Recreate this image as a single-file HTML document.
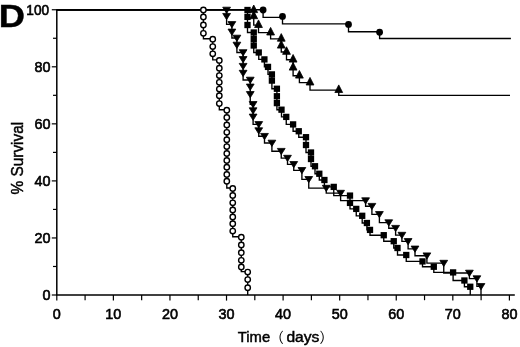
<!DOCTYPE html>
<html><head><meta charset="utf-8"><title>D</title>
<style>html,body{margin:0;padding:0;background:#fff}svg{display:block}</style></head>
<body>
<svg width="520" height="347" viewBox="0 0 520 347">
<rect width="520" height="347" fill="#fff"/>
<g stroke="#000" stroke-width="1.5" fill="none">
<path d="M56.8,9.15V295.0"/>
<path d="M56.05,295.0H514.8"/>
</g>
<g stroke="#000" stroke-width="1.2" fill="none">
<path d="M51.80,295.00H56.8"/>
<path d="M53.00,266.48H56.8"/>
<path d="M51.80,237.95H56.8"/>
<path d="M53.00,209.43H56.8"/>
<path d="M51.80,180.90H56.8"/>
<path d="M53.00,152.38H56.8"/>
<path d="M51.80,123.85H56.8"/>
<path d="M53.00,95.32H56.8"/>
<path d="M51.80,66.80H56.8"/>
<path d="M53.00,38.27H56.8"/>
<path d="M51.80,9.75H56.8"/>
<path d="M56.80,295.0V300.60"/>
<path d="M85.09,295.0V300.20"/>
<path d="M113.38,295.0V300.60"/>
<path d="M141.66,295.0V300.20"/>
<path d="M169.95,295.0V300.60"/>
<path d="M198.24,295.0V300.20"/>
<path d="M226.52,295.0V300.60"/>
<path d="M254.81,295.0V300.20"/>
<path d="M283.10,295.0V300.60"/>
<path d="M311.39,295.0V300.20"/>
<path d="M339.68,295.0V300.60"/>
<path d="M367.96,295.0V300.20"/>
<path d="M396.25,295.0V300.60"/>
<path d="M424.54,295.0V300.20"/>
<path d="M452.82,295.0V300.60"/>
<path d="M481.11,295.0V300.20"/>
<path d="M509.40,295.0V300.60"/>
</g>
<g font-family="Liberation Sans, Arial, Helvetica, sans-serif" font-size="14.4" fill="#000" stroke="#000" stroke-width="0.6">
<text x="50.4" y="299.90" text-anchor="end">0</text>
<text x="50.4" y="242.85" text-anchor="end">20</text>
<text x="50.4" y="185.80" text-anchor="end">40</text>
<text x="50.4" y="128.75" text-anchor="end">60</text>
<text x="50.4" y="71.70" text-anchor="end">80</text>
<text transform="translate(49.1,14.65) scale(0.95,1)" text-anchor="end">100</text>
<text x="56.80" y="318.6" text-anchor="middle">0</text>
<text x="113.38" y="318.6" text-anchor="middle">10</text>
<text x="169.95" y="318.6" text-anchor="middle">20</text>
<text x="226.52" y="318.6" text-anchor="middle">30</text>
<text x="283.10" y="318.6" text-anchor="middle">40</text>
<text x="339.68" y="318.6" text-anchor="middle">50</text>
<text x="396.25" y="318.6" text-anchor="middle">60</text>
<text x="452.82" y="318.6" text-anchor="middle">70</text>
<text x="509.40" y="318.6" text-anchor="middle">80</text>
<text transform="translate(237.8,341.8) scale(1.03,1)" stroke-width="0.45">Time</text>
<text transform="translate(286.4,341.8) scale(1.085,1)" stroke-width="0.45">days</text>
<text transform="translate(23.4,194.5) rotate(-90) scale(1.07,1.19)" stroke-width="0.4">% Survival</text>
</g>
<g font-family="Liberation Sans, Noto Sans CJK JP, sans-serif" font-size="14" fill="#000">
<text x="269.8" y="342">（</text>
<text x="319.6" y="342">）</text>
</g>
<text transform="translate(-1.2,26.75) scale(1.21,1.045)" font-family="Liberation Sans, Arial, sans-serif" font-weight="bold" font-size="30" stroke="#000" stroke-width="0.4">D</text>
<g stroke="#000" stroke-width="1.35" fill="none" stroke-linejoin="miter">
<path d="M56.80,9.75H203.40V16.50H203.40V24.50H203.40V32.80H203.40V38.70H212.75V46.10H212.75V53.30H212.75V59.90H219.30V67.70H219.30V75.10H219.30V81.80H219.30V88.60H219.30V95.25H219.30V103.10H219.30V109.75H226.80V116.90H226.80V124.40H226.80V131.80H226.80V139.25H226.80V146.10H226.80V153.00H226.80V159.90H226.80V166.70H226.80V173.90H226.80V180.75H226.80V188.00H232.75V194.90H232.75V202.30H232.75V209.50H232.75V216.40H232.75V223.25H232.75V230.60H232.75V236.75H241.30V244.50H241.30V252.25H241.30V259.80H241.30V266.50H241.30V271.60H247.70V279.10H247.70V287.25H247.70V295.00"/>
<path d="M56.80,9.75H226.60V16.25H226.60V24.40H231.90V31.90H231.90V38.00H236.90V45.00H236.90V52.50H243.10V59.35H243.10V66.20H243.10V73.10H243.10V80.00H250.25V86.85H250.25V94.35H250.25V104.35H253.10V110.60H253.10V116.90H253.10V124.40H258.75V130.60H258.75V136.25H264.50V143.00H271.90V151.20H281.25V158.10H287.50V164.35H293.75V170.30H301.90V179.30H308.75V188.10H326.25V193.10H340.60V200.60H365.60V206.20H371.90V214.35H379.40V222.60H388.75V228.20H395.60V235.10H401.90V241.35H408.10V248.85H415.00V255.70H426.90V263.10H443.75V273.00H469.40V278.60H476.90V286.35H481.00V295.00"/>
<path d="M56.80,9.75H247.50V16.90H247.50V25.00H247.50V32.50H253.75V39.00H253.75V45.50H253.75V52.50H258.75V59.40H264.40V66.90H268.00V74.40H271.90V80.60H271.90V88.75H276.90V96.25H276.90V103.10H276.90V109.70H281.50V116.90H286.25V124.40H293.10V131.25H298.75V137.20H306.00V145.00H306.00V152.50H311.00V159.00H311.00V166.25H315.00V173.75H319.30V180.00H324.40V186.90H333.75V195.60H350.00V202.90H350.00V208.90H356.25V215.80H362.20V223.00H366.90V229.90H370.00V235.20H383.75V241.20H393.75V248.00H397.50V255.00H406.25V261.40H422.50V266.75H433.80V272.40H453.10V280.50H464.40V286.75H470.25V295.00"/>
<path d="M56.80,9.75H253.75V16.30H253.75V25.10H258.50V32.60H270.60V38.80H281.25V45.70H281.25V51.95H286.50V59.70H293.10V67.70H293.10V75.70H299.40V82.60H310.00V90.10H338.75V95.33H510.00"/>
<path d="M56.80,9.75H263.10V17.40H282.50V23.90H348.50V31.75H379.60V38.50H510.90"/>
</g>
<g fill="#000" stroke="#000" stroke-width="0.8" stroke-linejoin="round">
<path d="M222.70,7.20H230.50L226.60,13.40Z"/>
<path d="M222.70,13.45H230.50L226.60,19.65Z"/>
<path d="M228.00,21.60H235.80L231.90,27.80Z"/>
<path d="M228.00,29.10H235.80L231.90,35.30Z"/>
<path d="M233.00,35.20H240.80L236.90,41.40Z"/>
<path d="M233.00,42.20H240.80L236.90,48.40Z"/>
<path d="M239.20,49.70H247.00L243.10,55.90Z"/>
<path d="M239.20,56.55H247.00L243.10,62.75Z"/>
<path d="M239.20,63.40H247.00L243.10,69.60Z"/>
<path d="M239.20,70.30H247.00L243.10,76.50Z"/>
<path d="M246.35,77.20H254.15L250.25,83.40Z"/>
<path d="M246.35,84.05H254.15L250.25,90.25Z"/>
<path d="M246.35,91.55H254.15L250.25,97.75Z"/>
<path d="M249.20,101.55H257.00L253.10,107.75Z"/>
<path d="M249.20,107.80H257.00L253.10,114.00Z"/>
<path d="M249.20,114.10H257.00L253.10,120.30Z"/>
<path d="M254.85,121.60H262.65L258.75,127.80Z"/>
<path d="M254.85,127.80H262.65L258.75,134.00Z"/>
<path d="M260.60,133.45H268.40L264.50,139.65Z"/>
<path d="M268.00,140.20H275.80L271.90,146.40Z"/>
<path d="M277.35,148.40H285.15L281.25,154.60Z"/>
<path d="M283.60,155.30H291.40L287.50,161.50Z"/>
<path d="M289.85,161.55H297.65L293.75,167.75Z"/>
<path d="M298.00,167.50H305.80L301.90,173.70Z"/>
<path d="M304.85,176.50H312.65L308.75,182.70Z"/>
<path d="M322.35,185.30H330.15L326.25,191.50Z"/>
<path d="M336.70,190.30H344.50L340.60,196.50Z"/>
<path d="M361.70,197.80H369.50L365.60,204.00Z"/>
<path d="M368.00,203.40H375.80L371.90,209.60Z"/>
<path d="M375.50,211.55H383.30L379.40,217.75Z"/>
<path d="M384.85,219.80H392.65L388.75,226.00Z"/>
<path d="M391.70,225.40H399.50L395.60,231.60Z"/>
<path d="M398.00,232.30H405.80L401.90,238.50Z"/>
<path d="M404.20,238.55H412.00L408.10,244.75Z"/>
<path d="M411.10,246.05H418.90L415.00,252.25Z"/>
<path d="M423.00,252.90H430.80L426.90,259.10Z"/>
<path d="M439.85,260.30H447.65L443.75,266.50Z"/>
<path d="M465.50,270.20H473.30L469.40,276.40Z"/>
<path d="M473.00,275.80H480.80L476.90,282.00Z"/>
<path d="M477.10,283.55H484.90L481.00,289.75Z"/>
<rect x="244.35" y="6.85" width="6.30" height="6.30" stroke="none"/>
<rect x="244.35" y="13.75" width="6.30" height="6.30" stroke="none"/>
<rect x="244.35" y="21.85" width="6.30" height="6.30" stroke="none"/>
<rect x="250.60" y="29.35" width="6.30" height="6.30" stroke="none"/>
<rect x="250.60" y="35.85" width="6.30" height="6.30" stroke="none"/>
<rect x="250.60" y="42.35" width="6.30" height="6.30" stroke="none"/>
<rect x="255.60" y="49.35" width="6.30" height="6.30" stroke="none"/>
<rect x="261.25" y="56.25" width="6.30" height="6.30" stroke="none"/>
<rect x="264.85" y="63.75" width="6.30" height="6.30" stroke="none"/>
<rect x="268.75" y="71.25" width="6.30" height="6.30" stroke="none"/>
<rect x="268.75" y="77.45" width="6.30" height="6.30" stroke="none"/>
<rect x="273.75" y="85.60" width="6.30" height="6.30" stroke="none"/>
<rect x="273.75" y="93.10" width="6.30" height="6.30" stroke="none"/>
<rect x="273.75" y="99.95" width="6.30" height="6.30" stroke="none"/>
<rect x="278.35" y="106.55" width="6.30" height="6.30" stroke="none"/>
<rect x="283.10" y="113.75" width="6.30" height="6.30" stroke="none"/>
<rect x="289.95" y="121.25" width="6.30" height="6.30" stroke="none"/>
<rect x="295.60" y="128.10" width="6.30" height="6.30" stroke="none"/>
<rect x="302.85" y="134.05" width="6.30" height="6.30" stroke="none"/>
<rect x="302.85" y="141.85" width="6.30" height="6.30" stroke="none"/>
<rect x="307.85" y="149.35" width="6.30" height="6.30" stroke="none"/>
<rect x="307.85" y="155.85" width="6.30" height="6.30" stroke="none"/>
<rect x="311.85" y="163.10" width="6.30" height="6.30" stroke="none"/>
<rect x="316.15" y="170.60" width="6.30" height="6.30" stroke="none"/>
<rect x="321.25" y="176.85" width="6.30" height="6.30" stroke="none"/>
<rect x="330.60" y="183.75" width="6.30" height="6.30" stroke="none"/>
<rect x="346.85" y="192.45" width="6.30" height="6.30" stroke="none"/>
<rect x="346.85" y="199.75" width="6.30" height="6.30" stroke="none"/>
<rect x="353.10" y="205.75" width="6.30" height="6.30" stroke="none"/>
<rect x="359.05" y="212.65" width="6.30" height="6.30" stroke="none"/>
<rect x="363.75" y="219.85" width="6.30" height="6.30" stroke="none"/>
<rect x="366.85" y="226.75" width="6.30" height="6.30" stroke="none"/>
<rect x="380.60" y="232.05" width="6.30" height="6.30" stroke="none"/>
<rect x="390.60" y="238.05" width="6.30" height="6.30" stroke="none"/>
<rect x="394.35" y="244.85" width="6.30" height="6.30" stroke="none"/>
<rect x="403.10" y="251.85" width="6.30" height="6.30" stroke="none"/>
<rect x="419.35" y="258.25" width="6.30" height="6.30" stroke="none"/>
<rect x="430.65" y="263.60" width="6.30" height="6.30" stroke="none"/>
<rect x="449.95" y="269.25" width="6.30" height="6.30" stroke="none"/>
<rect x="461.25" y="277.35" width="6.30" height="6.30" stroke="none"/>
<rect x="467.10" y="283.60" width="6.30" height="6.30" stroke="none"/>
<path d="M249.85,12.60H257.65L253.75,5.00Z"/>
<path d="M249.85,18.70H257.65L253.75,11.10Z"/>
<path d="M254.60,27.50H262.40L258.50,19.90Z"/>
<path d="M266.70,35.00H274.50L270.60,27.40Z"/>
<path d="M277.35,41.20H285.15L281.25,33.60Z"/>
<path d="M277.35,48.10H285.15L281.25,40.50Z"/>
<path d="M282.60,54.35H290.40L286.50,46.75Z"/>
<path d="M289.20,62.10H297.00L293.10,54.50Z"/>
<path d="M289.20,70.10H297.00L293.10,62.50Z"/>
<path d="M295.50,78.10H303.30L299.40,70.50Z"/>
<path d="M306.10,85.00H313.90L310.00,77.40Z"/>
<path d="M334.85,92.50H342.65L338.75,84.90Z"/>
<circle cx="263.10" cy="10.00" r="3.4" stroke="none"/>
<circle cx="282.50" cy="16.40" r="3.4" stroke="none"/>
<circle cx="348.50" cy="24.40" r="3.4" stroke="none"/>
<circle cx="379.60" cy="32.25" r="3.4" stroke="none"/>
</g>
<g fill="#fff" stroke="#000" stroke-width="1.4">
<circle cx="203.40" cy="10.00" r="2.7"/>
<circle cx="203.40" cy="17.00" r="2.7"/>
<circle cx="203.40" cy="25.00" r="2.7"/>
<circle cx="203.40" cy="33.30" r="2.7"/>
<circle cx="212.75" cy="39.20" r="2.7"/>
<circle cx="212.75" cy="46.60" r="2.7"/>
<circle cx="212.75" cy="53.80" r="2.7"/>
<circle cx="219.30" cy="60.40" r="2.7"/>
<circle cx="219.30" cy="68.20" r="2.7"/>
<circle cx="219.30" cy="75.60" r="2.7"/>
<circle cx="219.30" cy="82.30" r="2.7"/>
<circle cx="219.30" cy="89.10" r="2.7"/>
<circle cx="219.30" cy="95.75" r="2.7"/>
<circle cx="219.30" cy="103.60" r="2.7"/>
<circle cx="226.80" cy="110.25" r="2.7"/>
<circle cx="226.80" cy="117.40" r="2.7"/>
<circle cx="226.80" cy="124.90" r="2.7"/>
<circle cx="226.80" cy="132.30" r="2.7"/>
<circle cx="226.80" cy="139.75" r="2.7"/>
<circle cx="226.80" cy="146.60" r="2.7"/>
<circle cx="226.80" cy="153.50" r="2.7"/>
<circle cx="226.80" cy="160.40" r="2.7"/>
<circle cx="226.80" cy="167.20" r="2.7"/>
<circle cx="226.80" cy="174.40" r="2.7"/>
<circle cx="226.80" cy="181.25" r="2.7"/>
<circle cx="232.75" cy="188.50" r="2.7"/>
<circle cx="232.75" cy="195.40" r="2.7"/>
<circle cx="232.75" cy="202.80" r="2.7"/>
<circle cx="232.75" cy="210.00" r="2.7"/>
<circle cx="232.75" cy="216.90" r="2.7"/>
<circle cx="232.75" cy="223.75" r="2.7"/>
<circle cx="232.75" cy="231.10" r="2.7"/>
<circle cx="241.30" cy="237.25" r="2.7"/>
<circle cx="241.30" cy="245.00" r="2.7"/>
<circle cx="241.30" cy="252.75" r="2.7"/>
<circle cx="241.30" cy="260.30" r="2.7"/>
<circle cx="241.30" cy="267.00" r="2.7"/>
<circle cx="247.70" cy="272.10" r="2.7"/>
<circle cx="247.70" cy="279.60" r="2.7"/>
<circle cx="247.70" cy="287.75" r="2.7"/>
</g>
</svg>
</body></html>
